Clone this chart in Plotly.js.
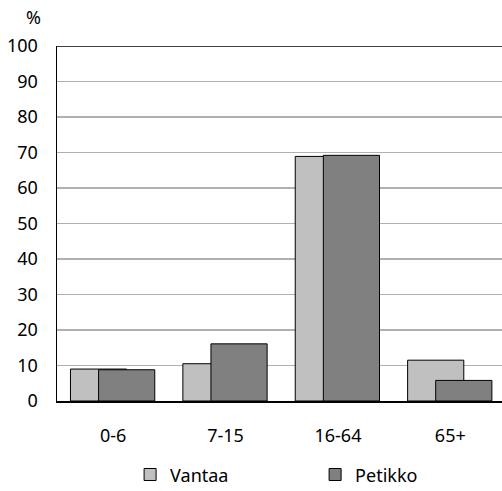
<!DOCTYPE html>
<html>
<head>
<meta charset="utf-8">
<script src="https://cdn.plot.ly/plotly-3.0.1.min.js"></script>
<style>html,body{margin:0;padding:0;overflow:hidden;background:#fff}#chart{width:502px;height:491px}</style>
</head>
<body>
<div id="chart"></div>
<script>
var categories = ["0-6", "7-15", "16-64", "65+"];
var vantaa = [9.0, 10.5, 68.9, 11.5];
var petikko = [8.8, 16.1, 69.2, 5.8];
var seriesNames = ["Vantaa", "Petikko"];
var yTicks = [0, 10, 20, 30, 40, 50, 60, 70, 80, 90, 100];

var fontFam = "Noto Sans, Open Sans, sans-serif";
var traces = [
  {type: "bar", name: seriesNames[0], x: categories, y: vantaa,
   offset: -0.38, width: 0.5,
   marker: {color: "#c0c0c0", line: {color: "#000", width: 1}}},
  {type: "bar", name: seriesNames[1], x: categories, y: petikko,
   offset: -0.13, width: 0.5,
   marker: {color: "#808080", line: {color: "#000", width: 1}}}
];
var layout = {
  width: 502, height: 491,
  margin: {l: 57, r: 0, t: 46, b: 90},
  paper_bgcolor: "#fff", plot_bgcolor: "#fff",
  barmode: "overlay",
  showlegend: true,
  font: {family: fontFam, size: 18, color: "#000"},
  xaxis: {type: "category", range: [-0.5, 3.46], showgrid: false,
          showline: true, linecolor: "#000", linewidth: 1.5,
          ticks: "", ticklabelstandoff: 18, tickfont: {size: 18}},
  yaxis: {range: [0, 100], tickvals: yTicks, showgrid: true,
          gridcolor: "#b0b0b0", gridwidth: 1.5, zeroline: false,
          showline: true, linecolor: "#000", linewidth: 1.5,
          ticks: "", ticklabelstandoff: 14, tickfont: {size: 18}},
  legend: {orientation: "h", x: 0.58, xanchor: "center", xref: "paper",
           y: 0.033, yanchor: "middle", yref: "container",
           entrywidth: 140, font: {size: 18}, itemwidth: 30},
  shapes: [{type: "line", xref: "paper", yref: "y", x0: 0, x1: 1, y0: 100, y1: 100,
            line: {color: "#000", width: 1.5}}],
  annotations: [{text: "%", xref: "paper", yref: "paper", x: 0, y: 1,
                 xanchor: "center", yanchor: "middle", xshift: -24, yshift: 29,
                 showarrow: false, font: {size: 18}}]
};
Plotly.newPlot("chart", traces, layout, {displayModeBar: false, staticPlot: true});
</script>
</body>
</html>
